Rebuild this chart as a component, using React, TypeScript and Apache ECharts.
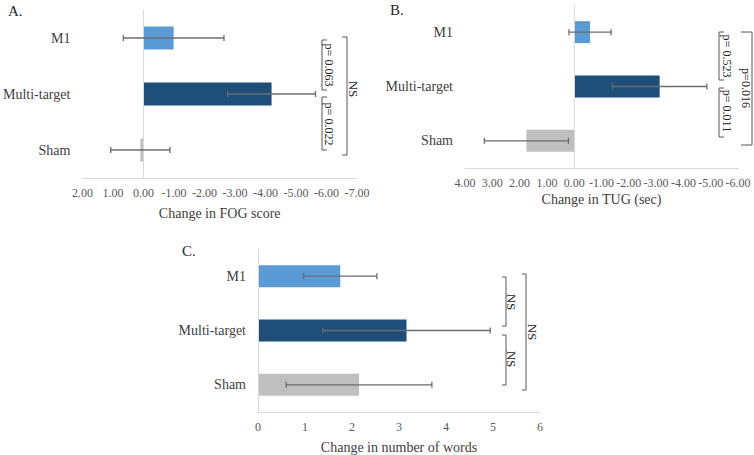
import React, { useEffect, useRef } from "react";
import * as echarts from "echarts";

const categories = ["M1", "Multi-target", "Sham"];
const barColors = ["#5B9BD5", "#1F4E79", "#BFBFBF"];

// Panel A: Change in FOG score
const fogMeans = [-0.99, -4.2, 0.1];
const fogErrors = [1.65, 1.44, 0.97];
// Panel B: Change in TUG (sec)
const tugMeans = [-0.58, -3.13, 1.75];
const tugErrors = [0.77, 1.73, 1.54];
// Panel C: Change in number of words
const wordMeans = [1.75, 3.16, 2.15];
const wordErrors = [0.78, 1.78, 1.55];

const panelTitles = ["A.", "B.", "C."];
const axisNames = ["Change in FOG score", "Change in TUG (sec)", "Change in number of words"];
const statLabels = ["p= 0.063", "p= 0.022", "NS", "p= 0.523", "p= 0.011", "p=0.016", "NS", "NS", "NS"];

const FONT = "Liberation Serif";
const TEXT = "#404040";
const AXIS = "#d9d9d9";
const ERR = "#6b6b6b";

const renderErr = (params: any, api: any) => {
  const v = api.value(0);
  const c = api.value(1);
  const e = api.value(2);
  const p1 = api.coord([v - e, c]);
  const p2 = api.coord([v + e, c]);
  const h = 3;
  const st = { stroke: ERR, lineWidth: 1.3 };
  return {
    type: "group",
    children: [
      { type: "line", shape: { x1: p1[0], y1: p1[1], x2: p2[0], y2: p2[1] }, style: st },
      { type: "line", shape: { x1: p1[0], y1: p1[1] - h, x2: p1[0], y2: p1[1] + h }, style: st },
      { type: "line", shape: { x1: p2[0], y1: p2[1] - h, x2: p2[0], y2: p2[1] + h }, style: st },
    ],
  };
};

// bracket: vertical line at x from y1 to y2 with ticks of length d (negative = to the left)
const bracket = (x: number, y1: number, y2: number, d: number) => ({
  type: "polyline",
  silent: true,
  shape: { points: [[x + d, y1], [x, y1], [x, y2], [x + d, y2]] },
  style: { stroke: "#595959", lineWidth: 1, fill: "none" },
});

const vtext = (text: string, x: number, y: number, size = 12) => ({
  type: "text",
  x,
  y,
  rotation: -Math.PI / 2,
  silent: true,
  style: {
    text,
    fill: "#262626",
    font: `${size}px "${FONT}"`,
    align: "center",
    verticalAlign: "middle",
  },
});

const title = (text: string, x: number, y: number) => ({
  type: "text",
  left: x,
  top: y,
  style: { text, fill: "#262626", font: `15px "${FONT}"` },
});

export default function App() {
  const ref = useRef<HTMLDivElement>(null);

  useEffect(() => {
    if (!ref.current) return;
    const chart = echarts.init(ref.current, null, { renderer: "svg" });

    const grids = [
      { left: 78, right: 397, top: 10, height: 168 },
      { left: 465, right: 16, top: 5, height: 163 },
      { left: 258, right: 214, top: 249, height: 164 },
    ];

    const xAxisCfg = [
      { min: -7, max: 2, interval: 1, inverse: true, dec: 2, gap: 28, margin: 9 },
      { min: -6, max: 4, interval: 1, inverse: true, dec: 2, gap: 24, margin: 9 },
      { min: 0, max: 6, interval: 1, inverse: false, dec: 0, gap: 28, margin: 9 },
    ];

    const xAxis = xAxisCfg.map((c, i) => ({
      type: "value",
      gridIndex: i,
      min: c.min,
      max: c.max,
      interval: c.interval,
      inverse: c.inverse,
      name: axisNames[i],
      nameLocation: "middle",
      nameGap: c.gap,
      nameTextStyle: { fontFamily: FONT, fontSize: 14, color: TEXT },
      axisLine: { show: true, onZero: false, lineStyle: { color: AXIS, width: 1 } },
      axisTick: { show: false },
      splitLine: { show: false },
      axisLabel: {
        fontFamily: FONT,
        fontSize: 12,
        color: "#595959",
        margin: c.margin,
        formatter: (v: number) => v.toFixed(c.dec),
      },
    }));

    const yAxis = [0, 1, 2].map((i) => ({
      type: "category",
      gridIndex: i,
      data: categories,
      inverse: true,
      axisLine: { show: false },
      axisTick: { show: false },
      axisLabel: { fontFamily: FONT, fontSize: 14, color: TEXT, margin: 12 },
    }));

    const means = [fogMeans, tugMeans, wordMeans];
    const errs = [fogErrors, tugErrors, wordErrors];
    const barWidths = [23, 22, 22];

    const series: any[] = [];
    for (let i = 0; i < 3; i++) {
      series.push({
        type: "bar",
        xAxisIndex: i,
        yAxisIndex: i,
        barWidth: barWidths[i],
        data: means[i].map((v, k) => ({ value: v, itemStyle: { color: barColors[k] } })),
        markLine: {
          silent: true,
          symbol: "none",
          label: { show: false },
          lineStyle: { color: AXIS, width: 1, type: "solid" },
          data: [{ xAxis: 0 }],
        },
      });
      series.push({
        type: "custom",
        xAxisIndex: i,
        yAxisIndex: i,
        renderItem: renderErr,
        encode: { x: 0, y: 1 },
        data: means[i].map((v, k) => [v, k, errs[i][k]]),
        z: 5,
      });
    }

    const graphic: any[] = [
      title(panelTitles[0], 8, 3),
      title(panelTitles[1], 390, 2),
      title(panelTitles[2], 182, 243),
      // Panel A
      bracket(322, 40, 90, 5),
      bracket(322, 97, 150, 5),
      vtext(statLabels[0], 329, 65),
      vtext(statLabels[1], 329, 124),
      bracket(347, 37, 155, -5),
      vtext(statLabels[2], 353, 89, 13),
      // Panel B
      bracket(719, 32, 80, 5),
      bracket(719, 88, 137, 5),
      vtext(statLabels[3], 727, 56),
      vtext(statLabels[4], 727, 111),
      bracket(752, 32, 145, -11),
      vtext(statLabels[5], 746, 88),
      // Panel C
      bracket(506, 277, 326, -4),
      bracket(506, 335, 385, -4),
      vtext(statLabels[6], 511, 302, 13),
      vtext(statLabels[7], 511, 359, 13),
      bracket(526, 274, 390, -4),
      vtext(statLabels[8], 532, 332, 13),
    ];

    chart.setOption({
      animation: false,
      backgroundColor: "#ffffff",
      grid: grids,
      xAxis,
      yAxis,
      series,
      graphic,
    });

    return () => chart.dispose();
  }, []);

  return (
    <div
      ref={ref}
      style={{ position: "fixed", left: 0, top: 0, width: 754, height: 455, background: "#fff" }}
    />
  );
}
